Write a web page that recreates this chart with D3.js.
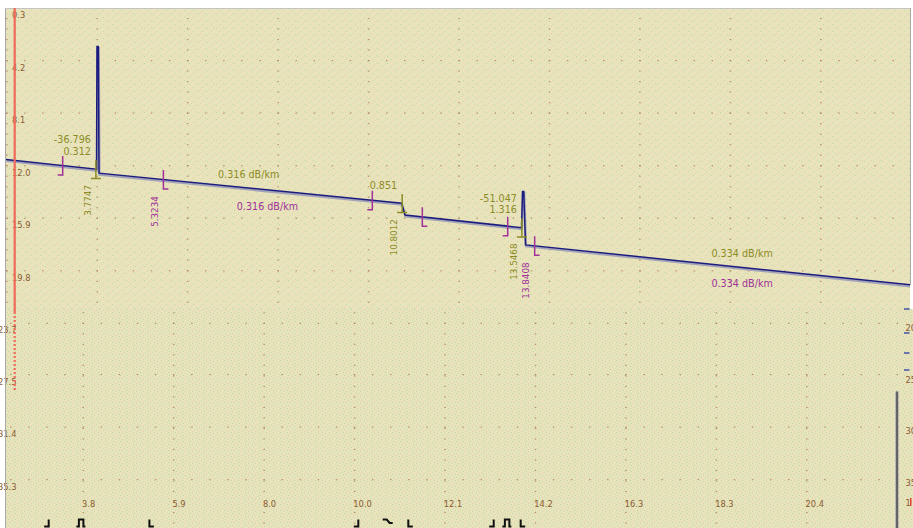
<!DOCTYPE html>
<html><head><meta charset="utf-8">
<script src="https://cdn.jsdelivr.net/npm/d3@7"></script>
<style>body{margin:0;background:#fff;overflow:hidden}svg{display:block}</style>
</head><body>
<script>
// ---------------- data ----------------
const xTickValues = [3.8, 5.875, 7.95, 10.025, 12.1, 14.175, 16.25, 18.325, 20.4];
const xTickLabels = ["3.8","5.9","8.0","10.0","12.1","14.2","16.3","18.3","20.4"];
const yTickValues = [0.3, 4.2, 8.1, 12.0, 15.9, 19.8, 23.7, 27.5, 31.4, 35.3];
const yTickLabels = ["0.3","4.2","8.1","12.0","15.9","19.8","23.7","27.5","31.4","35.3"];

// OTDR trace (distance km, level dB)
const traceKm = [1.71, 3.789, 3.800, 3.830, 3.846, 10.790, 10.866, 13.539, 13.562, 13.590, 13.631, 22.46];
const traceDb = [11.54, 12.27, 3.16, 3.16, 12.56, 14.79, 15.66, 16.60, 13.91, 13.91, 17.88, 20.85];

// events
const eventKm = [3.7747, 10.8012, 13.5468];
const eventDistLabels = ["3.7747", "10.8012", "13.5468"];
const eventLoss = ["0.312", "0.851", "1.316"];
const eventReflectance = ["-36.796", "", "-51.047"];
const eventKind = ["reflective", "non-reflective", "reflective"];

// section markers (A = start, B = end)
const markerAKm = [3.013, 10.116, 13.222];
const markerBKm = [5.3234, 11.263, 13.8408];
const markerBLabels = ["5.3234", "", "13.8408"];

// section attenuation labels
const slopeAKm = [7.28, 18.6];
const slopeALabels = ["0.316 dB/km", "0.334 dB/km"];
const slopeBKm = [7.71, 18.6];
const slopeBLabels = ["0.316 dB/km", "0.334 dB/km"];

// right strip tick labels (cut by window edge)
const rightLabels = ["20", "25", "30", "35"];

// ---------------- layout ----------------
const W = 913, H = 528;
const paneSplit = 309;       // boundary between upper and lower panes
const upperShift = 14;       // horizontal offset of the upper pane
const C = {
  bg: "#E9E3BB", axisText: "#8B5B32", dot: "#A98058",
  navy: "#1C1C7E", ghost: "#A3A3B9", olive: "#8C8C26", magenta: "#A0329A",
  red: "#F06A5A", border: "#A8A8A8"
};
const FONT = "DejaVu Sans, Verdana, sans-serif";

const x = d3.scaleLinear().domain([3.8, 20.4]).range([83, 806.6]);
const y = d3.scaleLinear().domain([0.3, 35.3]).range([8, 479.6]);
const traceAt = d3.scaleLinear().domain(traceKm).range(traceDb);

const svg = d3.select("body").append("svg").attr("width", W).attr("height", H);
const defs = svg.append("defs");

// background speckle patterns
const pu = defs.append("pattern").attr("id", "pu").attr("patternUnits", "userSpaceOnUse")
  .attr("width", 9).attr("height", 7);
pu.append("rect").attr("width", 9).attr("height", 7).attr("fill", C.bg);
[[0,0,"#BAD8A4"],[4,3,"#C1DAA9"],[7,6,"#C5DCAC"],[2,5,"#EDCDB6"],[6,1,"#EFD0BA"]].forEach(d =>
  pu.append("rect").attr("x", d[0]).attr("y", d[1]).attr("width", 1).attr("height", 1).attr("fill", d[2]));

const pl = defs.append("pattern").attr("id", "pl").attr("patternUnits", "userSpaceOnUse")
  .attr("width", 7).attr("height", 6);
pl.append("rect").attr("width", 7).attr("height", 6).attr("fill", C.bg);
[[0,0,"#BAD8A6"],[3,1,"#C2DBAA"],[1,3,"#BCD9A8"],[5,4,"#C4DCAE"],[6,2,"#D2E0B2"],[3,5,"#ECCEB7"]].forEach(d =>
  pl.append("rect").attr("x", d[0]).attr("y", d[1]).attr("width", 1).attr("height", 1).attr("fill", d[2]));

defs.append("clipPath").attr("id", "cu").append("rect")
  .attr("x", 6).attr("y", 8).attr("width", 904).attr("height", paneSplit - 8);
defs.append("clipPath").attr("id", "cl").append("rect")
  .attr("x", 0).attr("y", paneSplit).attr("width", W).attr("height", H - paneSplit);

svg.append("rect").attr("x", 6).attr("y", 8).attr("width", 904).attr("height", paneSplit - 8).attr("fill", "url(#pu)");
svg.append("rect").attr("x", 5).attr("y", paneSplit).attr("width", W - 5).attr("height", H - paneSplit).attr("fill", "url(#pl)");

// grid + axis text drawn into a pane
const xStep = x(xTickValues[1]) - x(xTickValues[0]);
const yStep = y(yTickValues[1]) - y(yTickValues[0]);
function drawGrid(g, labelFilter) {
  const rowDots = [];
  yTickValues.forEach(v => {
    for (let k = -30; k <= 60; k++) rowDots.push([x(xTickValues[0]) + k * xStep / 5, y(v)]);
  });
  const colDots = [];
  xTickValues.concat([xTickValues[0] - 2.075]).forEach(v => {
    for (let j = 0; j <= 50; j++) colDots.push([x(v), y(yTickValues[0]) + j * yStep / 5]);
  });
  g.append("g").selectAll("rect").data(rowDots.concat(colDots)).join("rect")
    .attr("x", d => d[0] - 0.5).attr("y", d => d[1] - 0.5)
    .attr("width", 1.5).attr("height", 1.1).attr("fill", C.dot).attr("opacity", 0.85);
  const labels = yTickValues.map((v, i) => ({v, t: yTickLabels[i]})).filter(d => labelFilter(y(d.v)));
  g.append("g").selectAll("text").data(labels).join("text")
    .attr("x", -2).attr("y", d => y(d.v) + 10)
    .attr("font-family", FONT).attr("font-size", 8.3).attr("fill", C.axisText)
    .text(d => d.t);
}

// ---------------- lower pane ----------------
const lower = svg.append("g").attr("clip-path", "url(#cl)");
drawGrid(lower, py => py >= paneSplit);
lower.append("g").selectAll("text").data(xTickValues).join("text")
  .attr("x", d => x(d) - 1).attr("y", 506.5)
  .attr("font-family", FONT).attr("font-size", 8.3).attr("fill", C.axisText)
  .text((d, i) => xTickLabels[i]);

// event glyphs along bottom
const gy0 = 519.5, gy1 = 526.5;
const glyphs = lower.append("g").attr("fill", "none").attr("stroke", "#111").attr("stroke-width", 2);
glyphs.selectAll("path.a").data(markerAKm).join("path").attr("class", "a")
  .attr("d", d => `M${x(d)},${gy0}V${gy1}H${x(d) - 4.5}`);
glyphs.selectAll("path.b").data(markerBKm).join("path").attr("class", "b")
  .attr("d", d => `M${x(d)},${gy0}V${gy1}H${x(d) + 4.5}`);
glyphs.selectAll("path.e").data(eventKm).join("path").attr("class", "e")
  .attr("d", (d, i) => {
    const e = x(d);
    return eventKind[i] === "reflective"
      ? `M${e - 5.5},${gy1}H${e - 3}V${gy0}H${e + 1.5}V${gy1}H${e + 3.5}`
      : `M${e - 5.5},${gy0}H${e - 1.5}L${e + 1.5},${gy0 + 3.5}H${e + 4.5}`;
  });

// ---------------- upper pane ----------------
const upperClip = svg.append("g").attr("clip-path", "url(#cu)");
const upper = upperClip.append("g").attr("transform", `translate(${upperShift},0)`);
drawGrid(upper, py => py < paneSplit);

const line = d3.line().x(d => x(d[0])).y(d => y(d[1]));
const traceData = traceKm.map((k, i) => [k, traceDb[i]]);
upper.append("path").datum(traceData).attr("d", line)
  .attr("transform", "translate(0.5,1.5)")
  .attr("fill", "none").attr("stroke", C.ghost).attr("stroke-width", 2.2);
upper.append("path").datum(traceData).attr("d", line)
  .attr("fill", "none").attr("stroke", C.navy).attr("stroke-width", 1.5);

// section markers
const mk = upper.append("g").attr("fill", "none").attr("stroke", C.magenta).attr("stroke-width", 1.5);
mk.selectAll("path.a").data(markerAKm).join("path").attr("class", "a")
  .attr("d", d => { const px = x(d), py = y(traceAt(d)); return `M${px},${py - 9.5}V${py + 9.5}H${px - 5}`; });
mk.selectAll("path.b").data(markerBKm).join("path").attr("class", "b")
  .attr("d", d => { const px = x(d), py = y(traceAt(d)); return `M${px},${py - 9.5}V${py + 9.5}H${px + 5}`; });

// event markers
const ev = upper.append("g").attr("fill", "none").attr("stroke", C.olive).attr("stroke-width", 1.5);
ev.selectAll("path").data(eventKm).join("path")
  .attr("d", d => { const px = x(d), py = y(traceAt(d - 0.05)); return `M${px},${py - 9}V${py + 9.5}M${px - 5},${py + 9.5}H${px + 5}`; });

// event texts
const tx = upper.append("g").attr("font-family", FONT);
tx.selectAll("text.loss").data(eventKm).join("text").attr("class", "loss")
  .attr("x", d => x(d) - 5).attr("y", d => y(traceAt(d - 0.05)) - 14)
  .attr("text-anchor", "end").attr("font-size", 9.6).attr("fill", C.olive)
  .text((d, i) => eventLoss[i]);
tx.selectAll("text.refl").data(eventKm.filter((d, i) => eventReflectance[i] !== "")).join("text").attr("class", "refl")
  .attr("x", d => x(d) - 5).attr("y", d => y(traceAt(d - 0.05)) - 25.5)
  .attr("text-anchor", "end").attr("font-size", 9.6).attr("fill", C.olive)
  .text(d => eventReflectance[eventKm.indexOf(d)]);
tx.selectAll("text.dist").data(eventKm).join("text").attr("class", "dist")
  .attr("transform", d => `translate(${x(d) - 5},${y(traceAt(d - 0.05)) + 16}) rotate(-90)`)
  .attr("text-anchor", "end").attr("font-size", 8.8).attr("fill", C.olive)
  .text((d, i) => eventDistLabels[i]);
tx.selectAll("text.bl").data(markerBKm.filter((d, i) => markerBLabels[i] !== "")).join("text").attr("class", "bl")
  .attr("transform", d => `translate(${x(d) - 5.5},${y(traceAt(d)) + 16.5}) rotate(-90)`)
  .attr("text-anchor", "end").attr("font-size", 8.8).attr("fill", C.magenta)
  .text(d => markerBLabels[markerBKm.indexOf(d)]);
tx.selectAll("text.sa").data(slopeAKm).join("text").attr("class", "sa")
  .attr("x", d => x(d)).attr("y", d => y(traceAt(d)) - 10.5)
  .attr("text-anchor", "middle").attr("font-size", 9.6).attr("fill", C.olive)
  .text((d, i) => slopeALabels[i]);
tx.selectAll("text.sb").data(slopeBKm).join("text").attr("class", "sb")
  .attr("x", d => x(d)).attr("y", d => y(traceAt(d)) + 20)
  .attr("text-anchor", "middle").attr("font-size", 9.6).attr("fill", C.magenta)
  .text((d, i) => slopeBLabels[i]);

// ---------------- frame & extras ----------------
svg.append("line").attr("x1", 5.5).attr("x2", 5.5).attr("y1", 8).attr("y2", H)
  .attr("stroke", C.border).attr("stroke-width", 1);
svg.append("line").attr("x1", 5).attr("x2", 910.5).attr("y1", 8.5).attr("y2", 8.5)
  .attr("stroke", "#C4C4C4").attr("stroke-width", 1);
svg.append("line").attr("x1", 910.5).attr("x2", 910.5).attr("y1", 8).attr("y2", paneSplit - 24)
  .attr("stroke", C.border).attr("stroke-width", 1);

// red level axis
svg.append("line").attr("x1", 14.7).attr("x2", 14.7).attr("y1", 8).attr("y2", 312)
  .attr("stroke", C.red).attr("stroke-width", 2.2);
svg.append("line").attr("x1", 14.7).attr("x2", 14.7).attr("y1", 312).attr("y2", 390)
  .attr("stroke", C.red).attr("stroke-width", 2.2).attr("stroke-dasharray", "2,2");

// right strip of lower pane
const rs = svg.append("g");
rs.selectAll("line").data([309, 333, 353, 370]).join("line")
  .attr("x1", 904).attr("x2", 909.5).attr("y1", d => d).attr("y2", d => d)
  .attr("stroke", "#2A3AA8").attr("stroke-width", 1.3);
rs.selectAll("text").data(rightLabels).join("text")
  .attr("x", 905.5).attr("y", (d, i) => 331 + i * 51.5)
  .attr("font-family", FONT).attr("font-size", 8.3).attr("fill", C.axisText).text(d => d);
rs.append("text").attr("x", 905.5).attr("y", 505.5).attr("font-family", FONT)
  .attr("font-size", 8.3).attr("fill", C.axisText).text("1");
rs.append("rect").attr("x", 910).attr("y", 498).attr("width", 1.5).attr("height", 8).attr("fill", "#E84030");

// cursor bar
svg.append("rect").attr("x", 895).attr("y", 391.5).attr("width", 4).attr("height", H - 391.5).attr("fill", "#B8B8B8");
svg.append("rect").attr("x", 896.2).attr("y", 391.5).attr("width", 1.6).attr("height", H - 391.5).attr("fill", "#505050");
</script>
</body></html>
